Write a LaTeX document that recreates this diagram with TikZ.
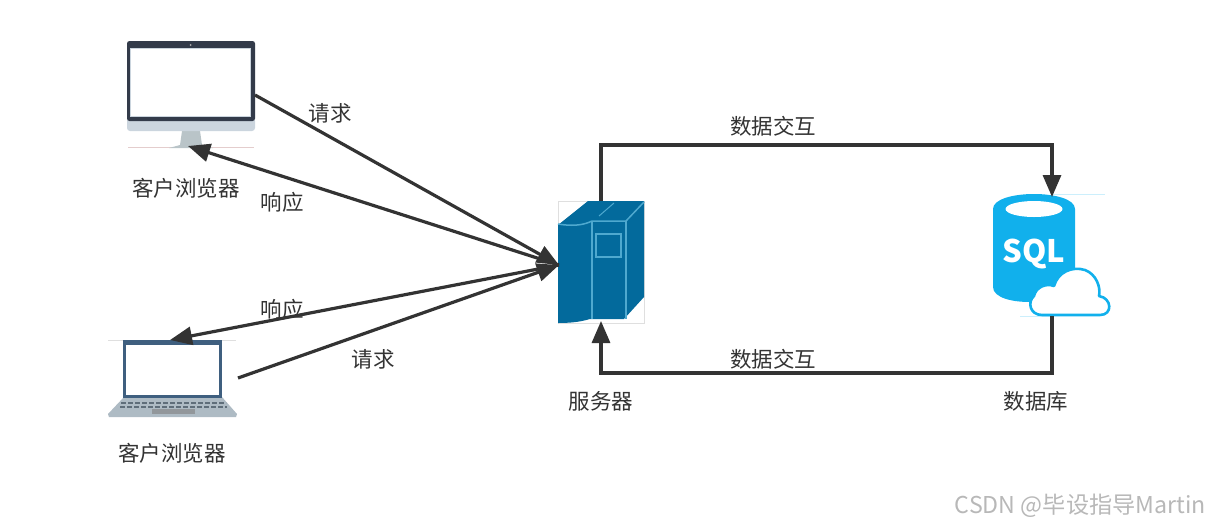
\documentclass[tikz,border=0pt]{standalone}
\usepackage{fontspec}
\setmainfont{Noto Sans CJK SC}
\usetikzlibrary{arrows.meta}
\definecolor{ink}{HTML}{333333}
\definecolor{monframe}{HTML}{333B4A}
\definecolor{chin}{HTML}{CBD5DE}
\definecolor{standc}{HTML}{B9C4C8}
\definecolor{lapframe}{HTML}{3F5F7F}
\definecolor{lapbase}{HTML}{AEBBC4}
\definecolor{keyc}{HTML}{5F6E7A}
\definecolor{srv}{HTML}{036A9C}
\definecolor{srvl}{HTML}{4FA9CF}
\definecolor{sqlc}{HTML}{11B0EC}
\tikzset{
  x=1pt,y=-1pt,
  lbl/.style={font=\fontsize{21.5}{24}\selectfont,text=ink,inner sep=0pt},
  wire/.style={draw=ink,line width=3.2pt},
  head/.style={wire,-{Triangle[length=22pt,width=18pt]}},
  spot/.style={inner sep=0pt,minimum size=0pt,outer sep=0pt},
}
\begin{document}
\begin{tikzpicture}
\useasboundingbox (0,0) rectangle (1209,525);
% ---- monitor
\draw[draw=red!30!gray!30,line width=.6pt] (128,147.5) -- (254,147.5);
\fill[standc] (182,131) -- (200,131) -- (202,145) -- (213,148) -- (169,148) -- (180,145) -- cycle;
\fill[chin,rounded corners=3pt] (127,118) rectangle (255,131);
\fill[monframe,rounded corners=2.5pt] (127,41) rectangle (255,121);
\fill[chin] (130,48) rectangle (251,117);
\fill[white] (131,49) rectangle (250,116);
\fill[gray!60] (190.5,45) circle [radius=1];
% ---- laptop
\draw[draw=gray!25,line width=.6pt] (108,340) -- (236,340);
\fill[lapbase] (124,397) -- (222,397) -- (237,414) -- (236,417) -- (109,417) -- (108,414) -- cycle;
\fill[lapframe] (123,340) rectangle (222,398);
\fill[white] (126,345) rectangle (219,395);
\draw[keyc,line width=2pt,dash pattern=on 5pt off 2pt] (121,403) -- (226,403);
\draw[keyc,line width=2pt,dash pattern=on 5pt off 2pt] (120,406.5) -- (227,406.5);
\fill[gray!60!lapbase] (152,409) rectangle (195,414);
% ---- server
\draw[draw=gray!25,line width=.5pt] (558,201) rectangle (644,323);
\fill[srv] (558,225) -- (588,201) -- (644,201) -- (644,297) -- (624,319) -- (590,319)
  .. controls (580,322) and (570,323) .. (558,323) -- cycle;
\draw[srvl,line width=1.5pt] (558,224) .. controls (570,226) and (582,226) .. (592,221) -- (626,221) -- (644,202);
\draw[srvl,line width=1.5pt] (592,221) -- (592,319);
\draw[srvl,line width=1.5pt] (626,221) -- (626,319);
\draw[srvl,line width=1.5pt] (596,234) rectangle (621,257);
\draw[srvl,line width=1pt] (599,216) -- (614,203);
% ---- database
\draw[draw=cyan!20,line width=.6pt] (1052,194) -- (1105,194);
\draw[draw=cyan!20,line width=.6pt] (1020,316) -- (1052,316);
\fill[sqlc] (993,209) .. controls (993,189) and (1075,189) .. (1075,209)
  -- (1075,283) .. controls (1075,306) and (993,309) .. (993,287) -- cycle;
\fill[white] (1034,209) ellipse [x radius=28.5,y radius=8];
\node[spot,text=white,font=\fontsize{31}{32}\selectfont\bfseries] (sqltext) at (1034,254) {SQL};
\draw[fill=white,draw=sqlc,line width=2.6pt,line join=round]
  (1042,315) .. controls (1030,315) and (1027,302) .. (1034,296)
  .. controls (1036,287) and (1046,283) .. (1054,286)
  .. controls (1058,272) and (1072,266) .. (1085,270)
  .. controls (1096,274) and (1101,287) .. (1099,296)
  .. controls (1112,298) and (1113,315) .. (1100,315) -- cycle;
% ---- anchors
\coordinate (monout) at (255,95);
\coordinate (monin) at (188,146);
\coordinate (lapin) at (170,340);
\coordinate (lapout) at (238,378);
\coordinate (srvw) at (559,265);
\coordinate (srvn) at (601,201);
\coordinate (srvs) at (601,321);
\coordinate (dbn) at (1052,197);
\coordinate (dbs) at (1052,316);
\coordinate (topl) at (601,145);
\coordinate (topr) at (1052,145);
\coordinate (botl) at (601,373);
\coordinate (botr) at (1052,373);
% ---- connectors
\draw[head] (srvw) -- (monin);
\draw[head] (srvw) -- (lapin);
\draw[head] (lapout) -- (srvw);
\draw[head] (monout) -- (srvw);
\draw[head] (srvn) -- (topl) -- (topr) -- (dbn);
\draw[head] (dbs) -- (botr) -- (botl) -- (srvs);
% ---- labels
\node[lbl] (a1) at (186,188) {客户浏览器};
\node[lbl] (a2) at (172,453) {客户浏览器};
\node[lbl] (r1) at (330,113) {请求};
\node[lbl] (r2) at (373,359) {请求};
\node[lbl] (s1) at (282,202) {响应};
\node[lbl] (s2) at (282,309) {响应};
\node[lbl] (d1) at (773,126) {数据交互};
\node[lbl] (d2) at (773,359) {数据交互};
\node[lbl] (sv) at (601,401) {服务器};
\node[lbl] (db) at (1036,401) {数据库};
\node[lbl,text=black!28,font=\fontsize{23.2}{25}\selectfont,anchor=east] (wm) at (1206,506) {CSDN @毕设指导Martin};
\end{tikzpicture}
\end{document}
